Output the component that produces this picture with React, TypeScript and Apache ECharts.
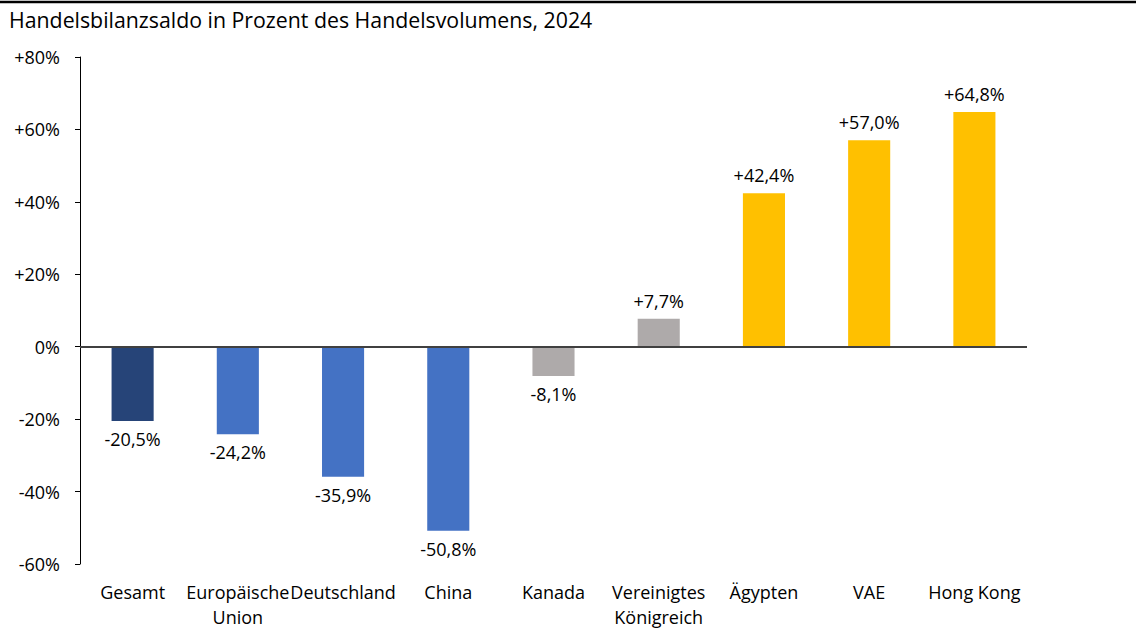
import React, { useEffect, useRef } from "react";
import * as echarts from "echarts";

const categories = [
  "Gesamt",
  "Europäische\nUnion",
  "Deutschland",
  "China",
  "Kanada",
  "Vereinigtes\nKönigreich",
  "Ägypten",
  "VAE",
  "Hong Kong",
];
const values = [-20.5, -24.2, -35.9, -50.8, -8.1, 7.7, 42.4, 57.0, 64.8];
const barColors = [
  "#264478",
  "#4472C4",
  "#4472C4",
  "#4472C4",
  "#AEAAAA",
  "#AEAAAA",
  "#FFC000",
  "#FFC000",
  "#FFC000",
];
const title = "Handelsbilanzsaldo in Prozent des Handelsvolumens, 2024";

const FONT = "'Open Sans', 'Noto Sans', sans-serif";

function fmt(v: number, digits: number) {
  const s = Math.abs(v).toFixed(digits).replace(".", ",");
  if (v > 0) return "+" + s;
  if (v < 0) return "-" + s;
  return s;
}

export default function App() {
  const ref = useRef<HTMLDivElement>(null);
  useEffect(() => {
    if (!ref.current) return;
    const chart = echarts.init(ref.current, undefined, { renderer: "svg" });
    chart.setOption({
      animation: false,
      backgroundColor: "#ffffff",
      textStyle: { fontFamily: FONT },
      title: {
        text: title,
        left: 9,
        top: 9,
        padding: 0,
        textStyle: { fontFamily: FONT, fontSize: 21.3, fontWeight: "normal", color: "#000" },
      },
      graphic: [
        {
          type: "line",
          shape: { x1: 0, y1: 2, x2: 1136, y2: 2 },
          style: { stroke: "#000", lineWidth: 2.5 },
        },
      ],
      grid: { left: 80, right: 109, top: 57, bottom: 65, containLabel: false },
      xAxis: {
        type: "category",
        data: categories,
        axisLine: { show: false, onZero: false },
        axisTick: { show: false },
        axisLabel: {
          interval: 0,
          margin: 15,
          fontSize: 18,
          lineHeight: 25,
          color: "#000",
          fontFamily: FONT,
          verticalAlign: "top",
        },
      },
      yAxis: {
        type: "value",
        min: -60,
        max: 80,
        interval: 20,
        splitLine: { show: false },
        axisLine: { show: true, lineStyle: { color: "#000", width: 1 } },
        axisTick: { show: true, inside: false, length: 5, lineStyle: { color: "#000" } },
        axisLabel: {
          margin: 20,
          fontSize: 18,
          color: "#000",
          fontFamily: FONT,
          formatter: (v: number) => fmt(v, 0) + "%",
        },
      },
      series: [
        {
          type: "bar",
          barWidth: "40%",
          data: values.map((v, i) => ({
            value: v,
            itemStyle: { color: barColors[i] },
            label: { position: v >= 0 ? "top" : "bottom" },
          })),
          label: {
            show: true,
            distance: 9,
            fontSize: 18,
            color: "#000",
            fontFamily: FONT,
            formatter: (p: any) => fmt(p.value, 1) + "%",
          },
          markLine: {
            silent: true,
            symbol: "none",
            label: { show: false },
            lineStyle: { color: "#404040", width: 2, type: "solid" },
            data: [{ yAxis: 0 }],
          },
        },
      ],
    });
    return () => chart.dispose();
  }, []);
  return (
    <div
      ref={ref}
      style={{ position: "fixed", left: 0, top: 0, width: 1136, height: 629 }}
    />
  );
}
